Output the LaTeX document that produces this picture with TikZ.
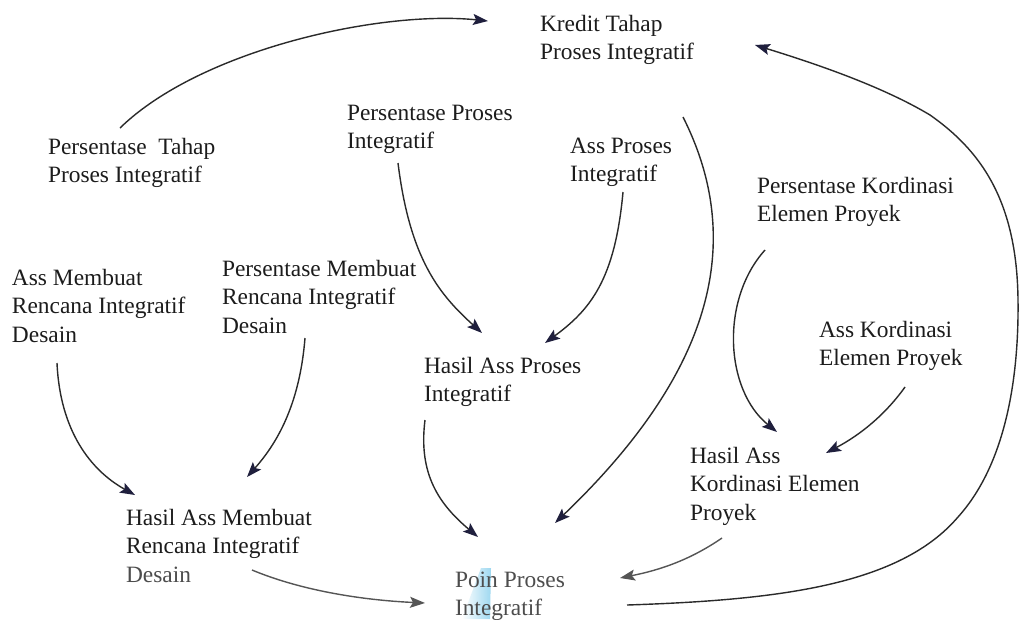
\documentclass[tikz,border=0pt]{standalone}
\usepackage{fontspec}
\setmainfont{Liberation Serif}
\usetikzlibrary{arrows.meta,calc}
\definecolor{ink}{HTML}{1C1C1C}
\definecolor{linec}{HTML}{2A2A2A}
\definecolor{tipc}{HTML}{1F1F3D}
\definecolor{soft}{HTML}{555555}
\definecolor{softtext}{HTML}{4D4D4D}
\definecolor{hl}{HTML}{9ED8F0}
% multi-line label whose baseline is that of its first line
\newcommand{\blk}[1]{\begin{tabular}[t]{@{}l@{}}#1\end{tabular}}

\begin{document}
\begin{tikzpicture}[x=1pt,y=-1pt,
  lbl/.style={anchor=base west,inner sep=0pt,outer sep=0pt,text=ink,
              font=\fontsize{23.4}{28.5}\selectfont},
  link/.style={draw=linec,line width=1.4pt,
               -{Stealth[length=15pt,width=11pt,inset=3pt,color=tipc,fill=tipc]}},
  softlink/.style={draw=soft,line width=1.4pt,
               -{Stealth[length=15pt,width=11pt,inset=3pt]}}]
\useasboundingbox (0,0) rectangle (1019,619);
\fill[white] (0,0) rectangle (1019,619);

% highlight mark behind the bottom label, fading to the left
\shade[left color=white, right color=hl] (481,568) -- (491,568) -- (490,619) -- (462,619) -- cycle;

% labels
\node[lbl] (kredit)   at (540,31)  {\blk{Kredit Tahap\\Proses Integratif}};
\node[lbl] (pTahap)   at (48,154)  {\blk{Persentase\ \ Tahap\\Proses Integratif}};
\node[lbl] (pProses)  at (347,120) {\blk{Persentase Proses\\Integratif}};
\node[lbl] (aProses)  at (570,153) {\blk{Ass Proses\\Integratif}};
\node[lbl] (pKord)    at (757,193) {\blk{Persentase Kordinasi\\Elemen Proyek}};
\node[lbl] (aMembuat) at (12,285)  {\blk{Ass Membuat\\Rencana Integratif\\Desain}};
\node[lbl] (pMembuat) at (222,276) {\blk{Persentase Membuat\\Rencana Integratif\\Desain}};
\node[lbl] (aKord)    at (819,337) {\blk{Ass Kordinasi\\Elemen Proyek}};
\node[lbl] (hProses)  at (424,373) {\blk{Hasil Ass Proses\\Integratif}};
\node[lbl] (hKord)    at (690,463) {\blk{Hasil Ass\\Kordinasi Elemen\\Proyek}};
\node[lbl] (hMembuat) at (126,525) {\blk{Hasil Ass Membuat\\Rencana Integratif\\\textcolor{softtext}{Desain}}};
\node[lbl,text=softtext] (poin) at (455,587) {\blk{Poin Proses\\Integratif}};

% connectors
\draw[link] ($(pTahap.base west)+(72,-26)$) .. controls +(80,-78) and +(-108,-11) .. ($(kredit.base west)+(-52,-10)$);
\draw[link] ($(kredit.base west)+(143,86)$) .. controls +(62,123) and +(160,-153) .. ($(poin.base west)+(100,-64)$);
\draw[link] ($(pProses.base west)+(51,43)$) .. controls +(12,97) and +(-42,-38) .. ($(hProses.base west)+(58,-40)$);
\draw[link] ($(aProses.base west)+(53,39)$) .. controls +(-8,88) and +(45,-33) .. ($(hProses.base west)+(121,-30)$);
\draw[link] ($(pKord.base west)+(8,57)$) .. controls +(-45,50) and +(-52,-42) .. ($(hKord.base west)+(87,-31)$);
\draw[link] ($(aKord.base west)+(86,50)$) .. controls +(-20,28) and +(34,-18) .. ($(hKord.base west)+(136,-10)$);
\draw[link] ($(aMembuat.base west)+(45,78)$) .. controls +(3,67) and +(-45,-25) .. ($(hMembuat.base west)+(9,-30)$);
\draw[link] ($(pMembuat.base west)+(83,62)$) .. controls +(-5,62) and +(33,-37) .. ($(hMembuat.base west)+(121,-48)$);
\draw[link] ($(hProses.base west)+(1,47)$) .. controls +(-7,55) and +(-38,-32) .. ($(poin.base west)+(23,-50)$);
\draw[softlink] ($(hMembuat.base west)+(126,45)$) .. controls +(48,20) and +(-65,-3) .. ($(poin.base west)+(-30,16)$);
\draw[softlink] ($(hKord.base west)+(32,75)$) .. controls +(-32,22) and +(40,-8) .. ($(poin.base west)+(165,-9)$);
\draw[link] ($(poin.base west)+(172,18)$) .. controls (780,600) and (900,585) .. (958,517)
  .. controls (1005,465) and (1019,380) .. (1018,300)
  .. controls (1017,200) and (980,150) .. (930,115)
  .. controls (880,85) and (810,62) .. ($(kredit.base west)+(215,14)$);
\end{tikzpicture}
\end{document}
